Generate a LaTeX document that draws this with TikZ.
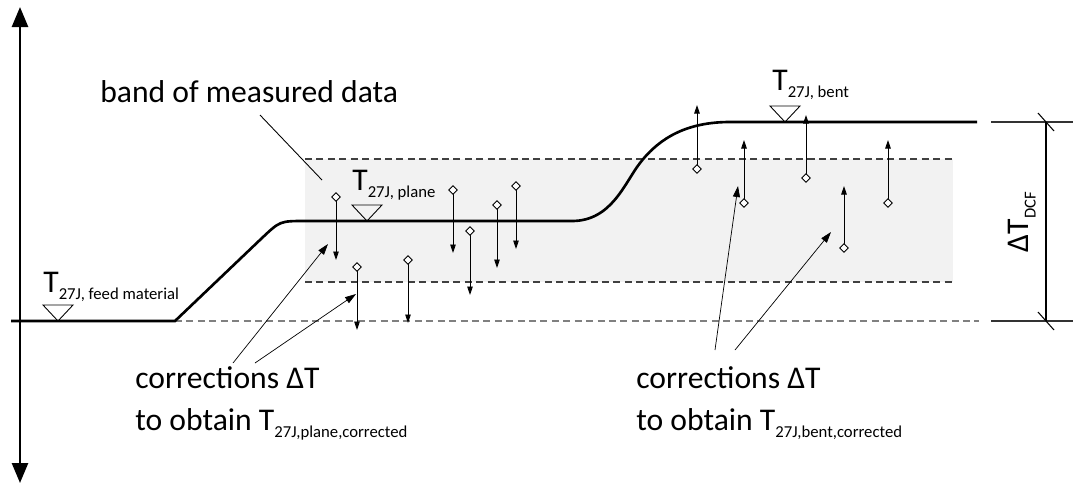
\documentclass[tikz,border=0pt]{standalone}
\usepackage{fontspec}
\setmainfont{Carlito}
\usepackage{tikz}
\usetikzlibrary{arrows.meta, shapes.geometric}

\newcommand{\lowsub}[1]{\raisebox{-4pt}{\fontsize{9.5}{11}\selectfont #1}}

\begin{document}
\begin{tikzpicture}[x=0.02cm, y=-0.02cm,
    axis/.style={line width=1.5pt, {Triangle[length=4mm, width=3.2mm]}-{Triangle[length=4mm, width=3.2mm]}},
    curve/.style={line width=1.5pt},
    band/.style={dash pattern=on 4pt off 2.5pt, line width=0.7pt, black!75},
    corr/.style={line width=0.5pt, -{Triangle[length=1.7mm, width=1.1mm]}},
    pnt/.style={line width=0.4pt, -{Triangle[length=2.2mm, width=1.4mm]}},
    dmd/.style={draw, diamond, fill=white, inner sep=0pt, minimum size=1.8mm, line width=0.5pt},
    lbl/.style={font=\fontsize{18}{22}\selectfont, inner sep=0pt},
]
\useasboundingbox (0,0) rectangle (1073,485);

\fill[black!5] (305,159) rectangle (953,282);
\draw[band] (305,159) -- (953,159);
\draw[band] (305,282) -- (953,282);
\draw[band, black!50] (175,321) -- (979,321);

\coordinate (ytop) at (20,7);
\coordinate (ybot) at (20,483);
\draw[axis] (ybot) -- (ytop);

\draw[curve] (11,321) -- (175,321) -- (262,238) .. controls (280,221) .. (305,221)
    -- (572,221) .. controls (612,221) and (625,182) .. (640,163)
    .. controls (660,137) and (688,122) .. (730,122) -- (977,122);

\foreach \x/\y in {58/321, 367/221, 785/122}
    \draw[line width=0.5pt] (\x-15,\y-16) -- ++(30,0) -- (\x,\y) -- cycle;

\node[lbl, anchor=base west] (tfeed) at (43,292) {T\lowsub{27J, feed material}};
\node[lbl, anchor=base west] (tplane) at (352,190) {T\lowsub{27J, plane}};
\node[lbl, anchor=base west] (tbent) at (772,90) {T\lowsub{27J, bent}};

\foreach \n/\x/\ya/\yb in {p1/336/197/260, p2/357/267/330, p3/408/260/323, p4/453/190/253,
    p5/470/231/295, p6/497/205/268, p7/516/186/249,
    b1/697/169/105, b2/744/203/140, b3/806/178/115, b4/844/248/186, b5/888/203/140} {
    \coordinate (e\n) at (\x,\yb);
    \draw[corr] (\x,\ya) -- (e\n);
    \node[dmd] (d\n) at (\x,\ya) {};
}

\node[lbl, anchor=base west] (bandtxt) at (100,102) {band of measured data};
\coordinate (bandfrom) at (260,115);
\coordinate (bandto) at (322,180);
\draw[line width=0.5pt] (bandfrom) -- (bandto);

\node[lbl, anchor=base west] (corrP1) at (135,388) {corrections ΔT};
\node[lbl, anchor=base west] (corrP2) at (135,430) {to obtain T\lowsub{27J,plane,corrected}};
\node[lbl, anchor=base west] (corrB1) at (636,388) {corrections ΔT};
\node[lbl, anchor=base west] (corrB2) at (636,430) {to obtain T\lowsub{27J,bent,corrected}};

\coordinate (pa1) at (233,363);
\coordinate (pa2) at (255,363);
\coordinate (pt1) at (328,244);
\coordinate (pt2) at (356,294);
\draw[pnt] (pa1) -- (pt1);
\draw[pnt] (pa2) -- (pt2);
\coordinate (ba1) at (715,350);
\coordinate (ba2) at (735,350);
\coordinate (bt1) at (738,186);
\coordinate (bt2) at (831,232);
\draw[pnt] (ba1) -- (bt1);
\draw[pnt] (ba2) -- (bt2);

\draw[line width=0.7pt, black!80] (991,122) -- (1073,122);
\draw[line width=0.7pt, black!80] (991,321) -- (1073,321);
\coordinate (dimtop) at (1046,122);
\coordinate (dimbot) at (1046,321);
\draw[line width=0.6pt] (dimtop) -- (dimbot);
\draw[line width=0.6pt] (1038,113) -- (1054,131);
\draw[line width=0.6pt] (1038,312) -- (1054,330);
\node[lbl, rotate=90] (dcf) at (1022,222) {ΔT\lowsub{DCF}};
\end{tikzpicture}
\end{document}
